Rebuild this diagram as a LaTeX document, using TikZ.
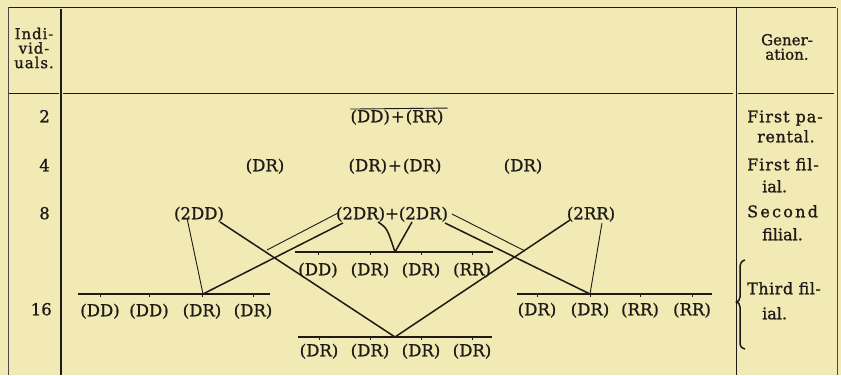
\documentclass[tikz,border=0pt]{standalone}
\usepackage{fontspec}
\setmainfont{DejaVu Serif}[FakeBold=1.1]
\usetikzlibrary{calc}
\definecolor{paper}{RGB}{241,234,180}
\definecolor{ink}{RGB}{30,26,22}
\begin{document}
\begin{tikzpicture}[x=1pt,y=-1pt,
  lab/.style={inner sep=0pt,text=ink,font=\fontsize{16.5}{16.5}\selectfont,text height=12pt,text depth=3.5pt},
  side/.style={inner sep=0pt,text=ink,font=\fontsize{16}{16}\selectfont,text height=11.5pt,text depth=3pt,anchor=west},
  head/.style={inner sep=0pt,text=ink,font=\fontsize{15}{14.5}\selectfont,align=center},
  rule/.style={draw=ink,line width=0.9pt},
  frame/.style={draw=ink!80,line width=0.6pt},
  grpline/.style={draw=ink,line width=1.2pt},
  tick/.style={draw=ink,line width=1pt},
  thk/.style={draw=ink,line width=1.5pt},
  thn/.style={draw=ink,line width=0.9pt}]
\fill[paper] (0,0) rectangle (841,375);
\useasboundingbox (0,0) rectangle (841,375);
% table frame
\draw[rule] (8,7) -- (836,7);
\draw[frame] (8,7) -- (8,375);
\draw[rule,line width=1.1pt] (61,9) -- (61,375);
\draw[rule,line width=0.8pt] (736,8) -- (736,375);
\draw[frame] (837,8) -- (837,375);
\draw[rule] (9,93) -- (59,93);
\draw[rule] (63,93) -- (733,93);
\draw[rule] (738,93) -- (834,93);
% headers
\node[head] (hI) at (34,48) {\addfontfeature{LetterSpace=6}Indi-\\\addfontfeature{LetterSpace=6}vid-\\\addfontfeature{LetterSpace=6}uals.};
\node[head] (hG) at (787,47) {Gener-\\ation.};
% row numbers
\node[lab,anchor=east] (n2) at (50,118) {2};
\node[lab,anchor=east] (n4) at (50,167) {4};
\node[lab,anchor=east] (n8) at (50,215) {8};
\node[lab,anchor=east] (n16) at (52,311) {16};
% generation labels
\node[side] (g1a) at (747,118) {\addfontfeature{LetterSpace=6}First pa-};
\node[side] (g1b) at (757,138) {\addfontfeature{LetterSpace=4}rental.};
\node[side] (g2a) at (747,166) {\addfontfeature{LetterSpace=6}First fil-};
\node[side] (g2b) at (762,188) {ial.};
\node[side] (g3a) at (747,213) {\addfontfeature{LetterSpace=14}Second};
\node[side] (g3b) at (762,236) {filial.};
\node[side] (g4a) at (747,290) {\addfontfeature{LetterSpace=3}Third fil-};
\node[side] (g4b) at (762,315) {ial.};
\draw[ink,line width=1.5pt] (745,260) .. controls (741,261) and (740,264) .. (740,268) -- (740,297)
  .. controls (740,300) and (738,302) .. (736.5,302) .. controls (738,302) and (740,304) .. (740,307)
  -- (740,342) .. controls (740,346) and (741,348) .. (745,349);
% parental
\node[lab] (p0) at (397,118) {(DD)\hspace{1pt}+\hspace{1pt}(RR)};
\draw[thn] ($(p0.north west)+(0,-1)$) -- ($(p0.north east)+(4,-2)$);
% first filial
\node[lab] (f1) at (265,167) {(DR)};
\node[lab] (f2) at (395,167) {(DR)\hspace{1pt}+\hspace{1pt}(DR)};
\node[lab] (f3) at (523,167) {(DR)};
% second filial
\node[lab] (pDD) at (199,215) {(2DD)};
\node[lab] (pDR) at (392,215) {(2DR)+(2DR)};
\node[lab] (pRR) at (591,215) {(2RR)};
% third filial groups
\coordinate (lA) at (78,294); \coordinate (lB) at (270,294);
\draw[grpline] (lA) -- (lB);
\foreach \n/\x/\t in {l1/100/(DD),l2/149/(DD),l3/202/(DR),l4/253/(DR)}{
  \node[lab] (\n) at (\x,312) {\t};
  \draw[tick] (\n |- lA) -- ++(0,2.5);}
\coordinate (mA) at (295,252); \coordinate (mB) at (493,252);
\draw[grpline] (mA) -- (mB);
\foreach \n/\x/\t in {m1/318/(DD),m2/370/(DR),m3/421/(DR),m4/472/(RR)}{
  \node[lab] (\n) at (\x,271) {\t};
  \draw[tick] (\n |- mA) -- ++(0,2.5);}
\coordinate (bA) at (298,337); \coordinate (bB) at (492,337);
\draw[grpline] (bA) -- (bB);
\foreach \n/\x/\t in {b1/319/(DR),b2/370/(DR),b3/421/(DR),b4/472/(DR)}{
  \node[lab] (\n) at (\x,352) {\t};
  \draw[tick] (\n |- bA) -- ++(0,2.5);}
\coordinate (rA) at (517,294); \coordinate (rB) at (712,294);
\draw[grpline] (rA) -- (rB);
\foreach \n/\x/\t in {r1/537/(DR),r2/590/(DR),r3/640/(RR),r4/692/(RR)}{
  \node[lab] (\n) at (\x,311) {\t};
  \draw[tick] (\n |- rA) -- ++(0,2.5);}
% convergence points
\coordinate (cL) at (203,294);
\coordinate (cM) at (395,252);
\coordinate (cB) at (395,337);
\coordinate (cR) at (590,294);
\coordinate (xL) at (267,250);
\coordinate (xR) at (525,251);
% connectors
\draw[thn] ($(pDD)+(-12,3)$) -- (cL);
\draw[thk] ($(pDD)+(21,7)$) -- (cB);
\draw[thn] ($(pDR)+(-54,-2)$) -- (xL);
\draw[thk] ($(pDR)+(-49,8)$) -- (cL);
\draw[thk] ($(pDR)+(-14,7)$) .. controls ($(pDR)+(-5,13)$) .. (cM);
\draw[thk] ($(pDR)+(20,7)$) -- (cM);
\draw[thn] ($(pDR)+(60,-1)$) -- (xR);
\draw[thk] ($(pDR)+(53,8)$) -- (cR);
\draw[thk] ($(pRR)+(-21,5)$) -- (cB);
\draw[thn] ($(pRR)+(11,8)$) -- (cR);
\end{tikzpicture}
\end{document}
